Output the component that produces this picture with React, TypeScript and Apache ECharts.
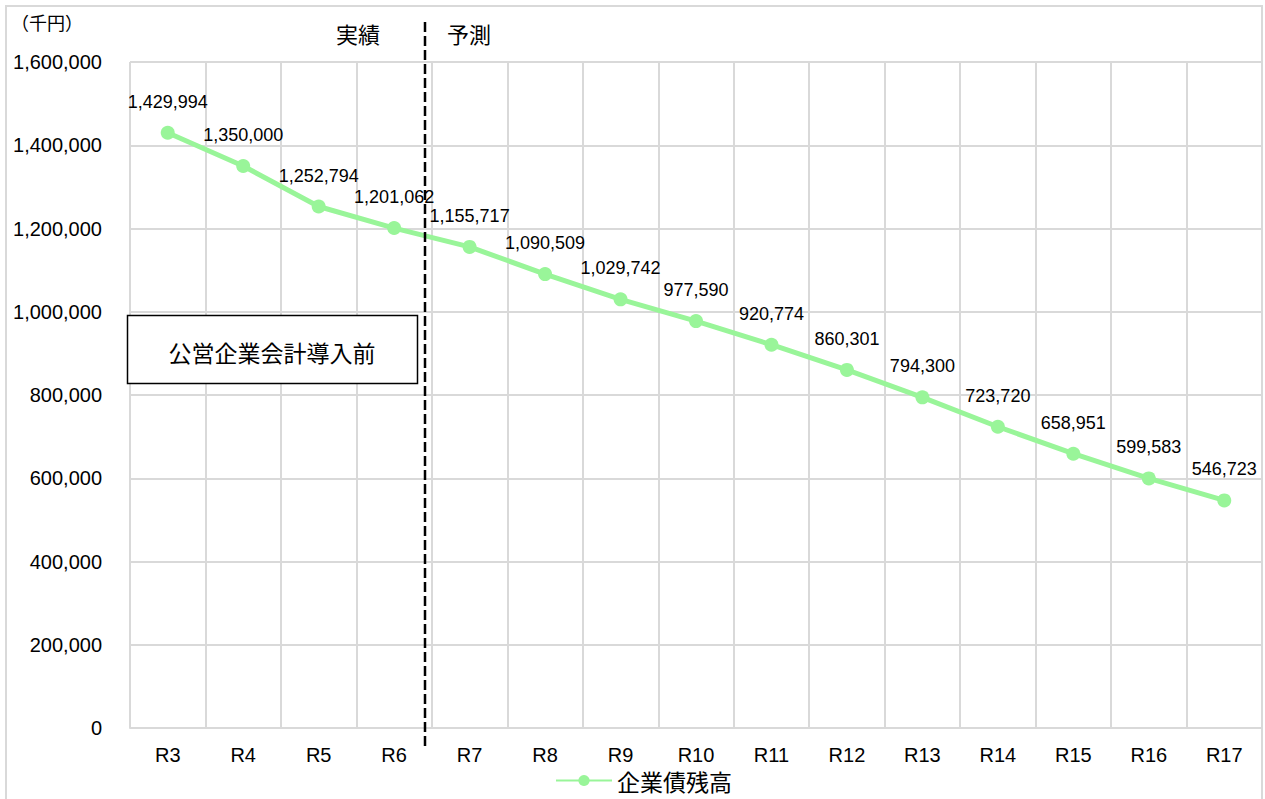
import React, { useEffect, useRef } from "react";
import * as echarts from "echarts";

const categories = ["R3", "R4", "R5", "R6", "R7", "R8", "R9", "R10", "R11", "R12", "R13", "R14", "R15", "R16", "R17"];
const debtBalance = [1429994, 1350000, 1252794, 1201062, 1155717, 1090509, 1029742, 977590, 920774, 860301, 794300, 723720, 658951, 599583, 546723];
const seriesName = "企業債残高";
const unitLabel = "（千円）";
const actualLabel = "実績";
const forecastLabel = "予測";
const boxLabel = "公営企業会計導入前";

const fmt = (v: number) => v.toLocaleString("en-US");
const FONT = "'Liberation Sans', 'Noto Sans CJK JP', sans-serif";
const JP = "'Noto Sans CJK JP', sans-serif";

export default function App() {
  const ref = useRef<HTMLDivElement>(null);
  useEffect(() => {
    document.body.style.margin = "0";
    const chart = echarts.init(ref.current!, undefined, { renderer: "svg" });
    chart.setOption({
      animation: false,
      backgroundColor: "#ffffff",
      grid: { left: 130, right: 3, top: 62, bottom: 71, containLabel: false },
      xAxis: {
        type: "category",
        data: categories,
        boundaryGap: true,
        axisLine: { show: true, lineStyle: { color: "#d9d9d9", width: 2 } },
        axisTick: { show: false },
        splitLine: { show: true, lineStyle: { color: "#d9d9d9", width: 2 } },
        axisLabel: { color: "#000", fontSize: 20, fontFamily: FONT, margin: 17 },
      },
      yAxis: {
        type: "value",
        min: 0,
        max: 1600000,
        interval: 200000,
        axisLine: { show: false },
        axisTick: { show: false },
        splitLine: { show: true, lineStyle: { color: "#d9d9d9", width: 2 } },
        axisLabel: { color: "#000", fontSize: 20, fontFamily: FONT, margin: 28, formatter: (v: number) => fmt(v) },
      },
      legend: {
        bottom: 2,
        left: 550,
        data: [seriesName],
        itemWidth: 56,
        itemHeight: 14,
        itemGap: 4,
        textStyle: { color: "#000", fontSize: 23, fontFamily: JP },
      },
      series: [
        {
          name: seriesName,
          type: "line",
          data: debtBalance,
          color: "#99f599",
          lineStyle: { width: 5, color: "#99f599" },
          itemStyle: { color: "#99f599" },
          symbol: "circle",
          symbolSize: 14,
          label: {
            show: true,
            position: "top",
            distance: 15,
            color: "#000",
            fontSize: 18,
            fontFamily: FONT,
            formatter: (p: any) => fmt(p.value),
          },
          z: 3,
        },
      ],
      graphic: [
        {
          type: "rect",
          shape: { x: 6, y: 6, width: 1256, height: 800 },
          style: { fill: "none", stroke: "#d9d9d9", lineWidth: 2 },
          silent: true,
          z: 0,
        },
        {
          type: "line",
          shape: { x1: 425, y1: 22, x2: 425, y2: 746 },
          style: { stroke: "#000", lineWidth: 2.5, lineDash: [10, 4] },
          z: 10,
        },
        {
          type: "text",
          x: 11,
          y: 22,
          style: { text: unitLabel, fill: "#000", fontSize: 18, fontFamily: JP, verticalAlign: "middle" },
          z: 10,
        },
        {
          type: "text",
          x: 358,
          y: 33,
          style: { text: actualLabel, fill: "#000", fontSize: 22, fontFamily: JP, align: "center", verticalAlign: "middle" },
          z: 10,
        },
        {
          type: "text",
          x: 469,
          y: 33,
          style: { text: forecastLabel, fill: "#000", fontSize: 22, fontFamily: JP, align: "center", verticalAlign: "middle" },
          z: 10,
        },
        {
          type: "rect",
          shape: { x: 127.5, y: 315.5, width: 290, height: 68 },
          style: { fill: "#fff", stroke: "#000", lineWidth: 1.5 },
          z: 11,
        },
        {
          type: "text",
          x: 272,
          y: 352,
          style: { text: boxLabel, fill: "#000", fontSize: 23, fontFamily: JP, align: "center", verticalAlign: "middle" },
          z: 12,
        },
      ],
    });
    return () => chart.dispose();
  }, []);
  return <div ref={ref} style={{ width: 1265, height: 799 }} />;
}
